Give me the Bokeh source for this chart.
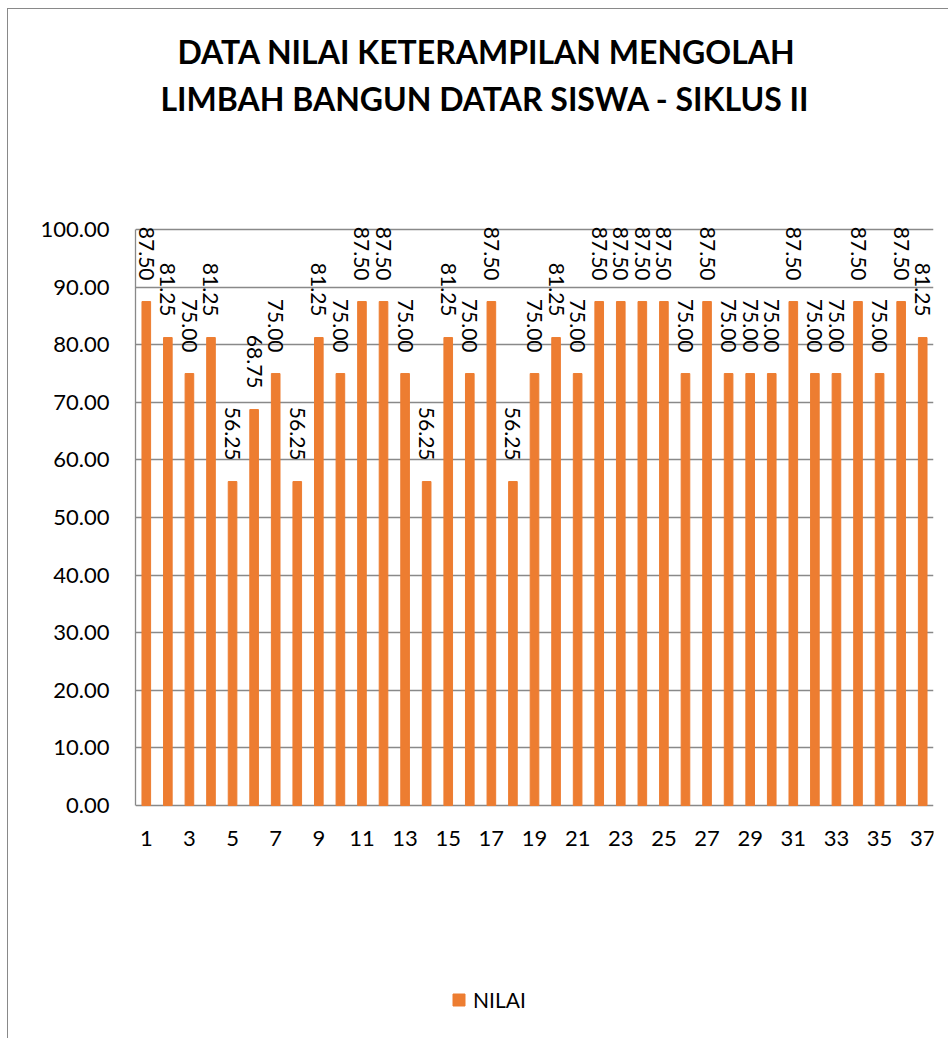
import math
from bokeh.plotting import figure
from bokeh.models import (ColumnDataSource, Range1d, FixedTicker, PrintfTickFormatter,
                          LabelSet, Legend, LegendItem, Title)
from bokeh.core.properties import value
from bokeh.embed import file_html
from bokeh.resources import INLINE

# ---- data ----
students = list(range(1, 38))
nilai = [87.50, 81.25, 75.00, 81.25, 56.25, 68.75, 75.00, 56.25, 81.25, 75.00,
         87.50, 87.50, 75.00, 56.25, 81.25, 75.00, 87.50, 56.25, 75.00, 81.25,
         75.00, 87.50, 87.50, 87.50, 87.50, 75.00, 87.50, 75.00, 75.00, 75.00,
         87.50, 75.00, 75.00, 87.50, 75.00, 87.50, 81.25]
x_tick_values = [1, 3, 5, 7, 9, 11, 13, 15, 17, 19, 21, 23, 25, 27, 29, 31, 33, 35, 37]
y_tick_values = [0, 10, 20, 30, 40, 50, 60, 70, 80, 90, 100]
title_lines = ["DATA NILAI KETERAMPILAN MENGOLAH",
               "LIMBAH BANGUN DATAR SISWA - SIKLUS II"]
series_name = "NILAI"

BAR_COLOR = "#ED7D31"
GRID_COLOR = "#898989"
FONT = "Lato"

# layout: the frame runs from a little above the 100 line (room for the value
# labels) down to the bottom of the chart, so that the category labels and
# the legend sit inside it
FRAME_W, FRAME_H = 798, 832
PX_PER_UNIT = 5.76
Y_TOP = y_tick_values[-1] + 4
Y_BOTTOM = Y_TOP - FRAME_H / PX_PER_UNIT

src = ColumnDataSource(dict(
    x=students,
    y=nilai,
    label=[f"{v:.2f}" for v in nilai],
))
cat_src = ColumnDataSource(dict(
    x=x_tick_values,
    y=[0] * len(x_tick_values),
    label=[str(v) for v in x_tick_values],
))

p = figure(frame_width=FRAME_W, frame_height=FRAME_H, output_backend="svg",
           toolbar_location=None,
           x_range=Range1d(0.5, len(students) + 0.5), y_range=Range1d(Y_BOTTOM, Y_TOP),
           min_border_left=127, min_border_right=15, min_border_top=197,
           min_border_bottom=0)
p.styles = {"margin-left": "7px", "margin-top": "8px",
            "border-left": "1px solid #898989", "border-top": "1px solid #898989"}
p.outline_line_color = None
p.background_fill_color = "white"
p.border_fill_color = "white"

# grid (the 0 grid line doubles as the category axis line)
p.xgrid.grid_line_color = None
p.ygrid.ticker = FixedTicker(ticks=y_tick_values)
p.ygrid.grid_line_color = GRID_COLOR
p.ygrid.grid_line_width = 1.3

# y axis
p.yaxis.ticker = FixedTicker(ticks=y_tick_values)
p.yaxis.bounds = (y_tick_values[0], y_tick_values[-1])
p.yaxis.formatter = PrintfTickFormatter(format="%.2f")
p.yaxis.major_tick_out = 0
p.yaxis.major_tick_in = 0
p.yaxis.minor_tick_out = 0
p.yaxis.minor_tick_in = 0
p.yaxis.axis_line_color = GRID_COLOR
p.yaxis.axis_line_width = 1.3
p.yaxis.major_label_standoff = 26
p.yaxis.major_label_text_font = FONT
p.yaxis.major_label_text_font_size = "22px"
p.yaxis.major_label_text_color = "black"

# category axis labels, placed on the x scale just under the 0 line
p.xaxis.visible = False
cat_labels = LabelSet(x="x", y="y", text="label", source=cat_src,
                      text_align="center", text_baseline="top", y_offset=-25,
                      text_font=value(FONT), text_font_size=value("22px"),
                      text_color="black")
p.add_layout(cat_labels)

bars = p.vbar(x="x", top="y", width=0.4, source=src,
              fill_color=BAR_COLOR, line_color=BAR_COLOR)

labels = LabelSet(x="x", y="y", text="label", source=src,
                  angle=-math.pi / 2, text_align="right", text_baseline="middle",
                  y_offset=21, text_font=value(FONT), text_font_size=value("21px"),
                  text_color="black")
p.add_layout(labels)

# title: spacer next to the frame, then line 2, then line 1 (outermost)
title_style = dict(text_font=FONT, text_font_style="bold", text_font_size="32px",
                   text_color="black")
spacer_top = Title(text=" ", standoff=56, text_font_size="28px")
t2 = Title(text=title_lines[1], align="left", offset=25, standoff=0, **title_style)
t1 = Title(text=title_lines[0], align="left", offset=42, standoff=12, **title_style)
p.add_layout(spacer_top, "above")
p.add_layout(t2, "above")
p.add_layout(t1, "above")

# legend at the bottom of the chart
legend = Legend(items=[LegendItem(label=series_name, renderers=[bars])],
                location=(316, 26), orientation="horizontal",
                glyph_width=15, glyph_height=15, label_height=15,
                label_standoff=7, padding=0, margin=0,
                border_line_color=None, background_fill_alpha=0,
                label_text_font=FONT, label_text_font_size="21px",
                label_text_color="black")
p.add_layout(legend)

open("out.html", "w").write(file_html(p, INLINE))
